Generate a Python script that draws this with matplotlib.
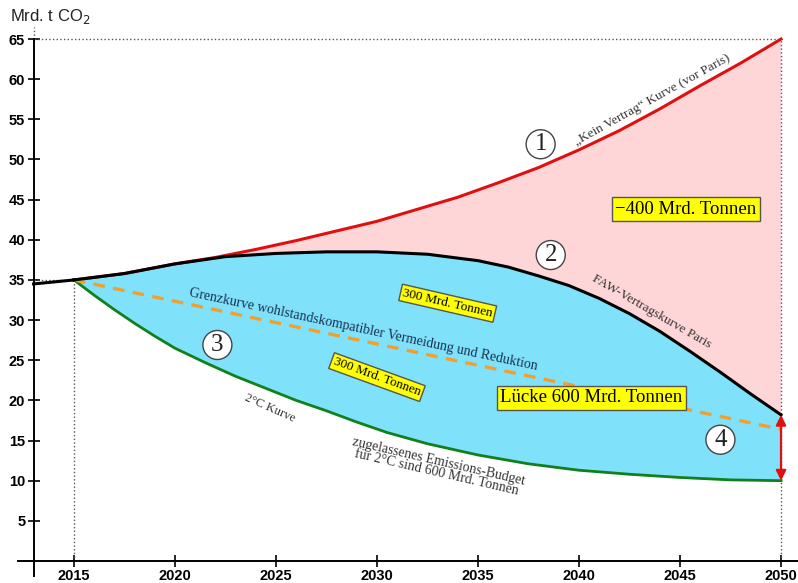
import matplotlib
matplotlib.use('Agg')
import matplotlib.pyplot as plt

# data (Mrd. t CO2)
red_years = [2015, 2017.5, 2020, 2022, 2024, 2026, 2028, 2030, 2032, 2034,
             2036, 2038, 2040, 2042, 2044, 2046, 2048, 2050]
no_treaty = [35.0, 35.8, 37.0, 37.8, 38.8, 39.9, 41.1, 42.3, 43.8, 45.3,
             47.1, 49.0, 51.2, 53.6, 56.3, 59.2, 62.0, 65.0]

black_years = [2015, 2017.5, 2020, 2022.5, 2025, 2027.5, 2030, 2032.5,
               2035, 2036.5, 2038, 2039.5, 2041, 2042.5, 2044, 2045.5,
               2047, 2048.5, 2050]
paris = [35.0, 35.8, 37.0, 37.9, 38.3, 38.5, 38.5, 38.2,
         37.4, 36.6, 35.5, 34.3, 32.7, 30.8, 28.6, 26.1,
         23.5, 20.8, 18.2]

green_years = [2015, 2016, 2017, 2018, 2019, 2020, 2021.5, 2023, 2024.5,
               2026, 2027.5, 2029, 2030.5, 2032.5, 2035, 2037.5, 2040,
               2042.5, 2045, 2047.5, 2050]
two_deg = [35.0, 33.1, 31.3, 29.6, 28.0, 26.5, 24.7, 23.0, 21.5,
           20.0, 18.7, 17.3, 16.0, 14.6, 13.2, 12.1, 11.3,
           10.8, 10.4, 10.1, 10.0]

hist_years = [2013, 2015]
hist = [34.5, 35.0]
limit_years = [2015, 2050]
limit = [35.0, 16.4]

xticks = [2015, 2020, 2025, 2030, 2035, 2040, 2045, 2050]
yticks = [5, 10, 15, 20, 25, 30, 35, 40, 45, 50, 55, 60, 65]

serif = 'Liberation Serif'
txt_col = '#333333'
dot_col = '#555555'

fig = plt.figure(figsize=(7.98, 5.83), dpi=100)
ax = fig.add_axes([18 / 798, 7 / 583, 780 / 798, 549 / 583])
ax.set_xlim(2012.23, 2050.84)
ax.set_ylim(-1.87, 66.5)

for s in ['top', 'right']:
    ax.spines[s].set_visible(False)
ax.spines['left'].set_position(('data', 2013))
ax.spines['bottom'].set_position(('data', 0))
ax.spines['left'].set_bounds(-1.87, 65)
ax.spines['left'].set_linewidth(1.4)
ax.spines['bottom'].set_linewidth(1.4)
ax.plot([2013, 2013], [65, 66.5], ls=':', color=dot_col, lw=1)

ax.set_xticks(xticks)
ax.set_yticks(yticks)
ax.tick_params(direction='inout', length=8, width=1.2, pad=2)
for lab in ax.get_xticklabels() + ax.get_yticklabels():
    lab.set_fontfamily('Liberation Sans')
    lab.set_fontweight('bold')
    lab.set_fontsize(10.5)

# dotted guide lines
ax.plot([2013, 2050], [65, 65], ls=':', color=dot_col, lw=1)
ax.plot([2050, 2050], [0, 65], ls=':', color=dot_col, lw=1)
ax.plot([2015, 2015], [0, 35], ls=':', color=dot_col, lw=1)
ax.plot([2013, 2015], [35, 35], ls=':', color=dot_col, lw=1)

# areas between the curves
ax.fill(red_years + black_years[::-1], no_treaty + paris[::-1],
        color='#FFD6D8', lw=0)
ax.fill(black_years + green_years[::-1], paris + two_deg[::-1],
        color='#80E2FA', lw=0)

# curves
ax.plot(red_years, no_treaty, color='#E01010', lw=2.2)
ax.plot(green_years, two_deg, color='#10801A', lw=2.0)
ax.plot(limit_years, limit, color='#F0A030', lw=2.4, ls=(0, (3.5, 2.5)))
ax.plot(black_years, paris, color='black', lw=2.2)
ax.plot(hist_years, hist, color='black', lw=2.2)

# gap arrow at 2050
ax.annotate('', xy=(2050, two_deg[-1]), xytext=(2050, paris[-1]),
            arrowprops=dict(arrowstyle='<|-|>', color='#E01010', lw=1.6,
                            mutation_scale=15, shrinkA=0, shrinkB=0))

# circled numbers
for x, y, n in [(2038.1, 51.9, '1'), (2038.6, 38.1, '2'),
                (2022.1, 26.9, '3'), (2047.0, 15.1, '4')]:
    ax.text(x, y, n, family=serif, fontsize=18, ha='center', va='center',
            color='#222222',
            bbox=dict(boxstyle='circle,pad=0.14', fc='white', ec='#444444',
                      lw=1.0))

# yellow boxes
ybox = dict(boxstyle='square,pad=0.18', fc='#FFFF00', ec='#555555', lw=1.0)
ax.text(2045.3, 43.8, '\u2212400 Mrd. Tonnen', family=serif, fontsize=13.5,
        ha='center', va='center', bbox=ybox)
ax.text(2040.6, 20.3, 'Lücke 600 Mrd. Tonnen', family=serif, fontsize=13.5,
        ha='center', va='center', bbox=ybox)
ax.text(2033.5, 32.1, '300 Mrd. Tonnen', family=serif, fontsize=9.5,
        ha='center', va='center', rotation=-13, bbox=ybox)
ax.text(2030.0, 22.9, '300 Mrd. Tonnen', family=serif, fontsize=9.5,
        ha='center', va='center', rotation=-20, bbox=ybox)

# curve labels
ax.text(2043.6, 57.4, '\u201eKein Vertrag\u201c Kurve (vor Paris)',
        family=serif, fontsize=9.5, color=txt_col, ha='center', va='center',
        rotation=29)
ax.text(2043.6, 31.0, 'FAW-Vertragskurve Paris', family=serif, fontsize=9.5,
        color=txt_col, ha='center', va='center', rotation=-30)
ax.text(2029.3, 28.8,
        'Grenzkurve wohlstandskompatibler Vermeidung und Reduktion',
        family=serif, fontsize=10, color='#1A3050', ha='center',
        va='center', rotation=-12)
ax.text(2024.7, 19.0, '2°C Kurve', family=serif, fontsize=9,
        color=txt_col, ha='center', va='center', rotation=-24)
ax.text(2033.0, 11.7,
        'zugelassenes Emissions-Budget\nfür 2°C sind 600 Mrd. Tonnen',
        family=serif, fontsize=10, color=txt_col, ha='center', va='center',
        rotation=-13, linespacing=0.85)

fig.text(10 / 798, 1 - 17 / 583, 'Mrd. t CO$_2$', family='Liberation Sans',
         fontsize=12, ha='left', va='center', color='#222222')

fig.savefig('out.png', dpi=100)
